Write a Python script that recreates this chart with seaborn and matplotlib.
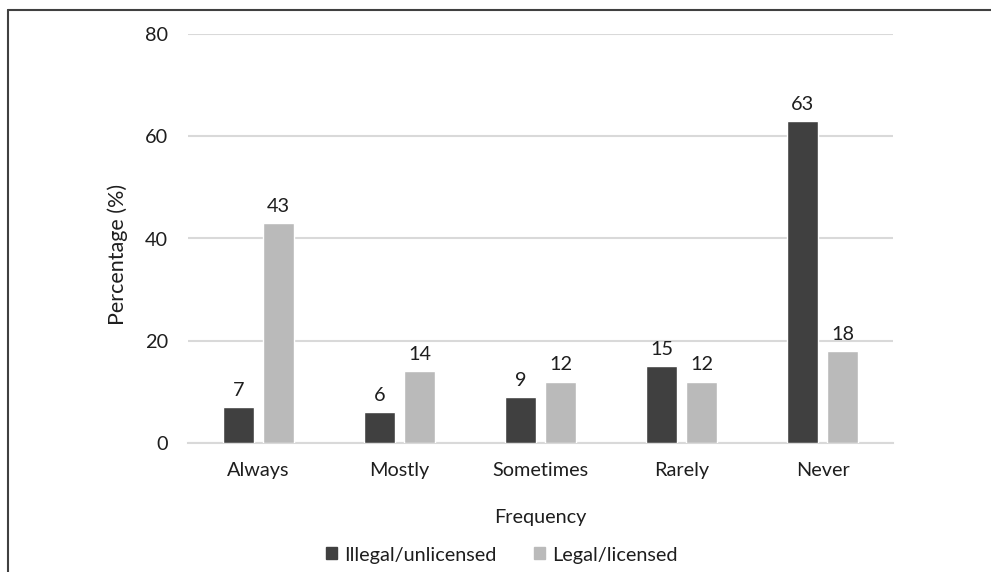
import matplotlib
matplotlib.use("Agg")
import matplotlib.pyplot as plt
from matplotlib.lines import Line2D
import seaborn as sns
import pandas as pd

categories = ["Always", "Mostly", "Sometimes", "Rarely", "Never"]
illegal = [7, 6, 9, 15, 63]
legal = [43, 14, 12, 12, 18]
series_names = ["Illegal/unlicensed", "Legal/licensed"]
y_ticks = [0, 20, 40, 60, 80]

df = pd.DataFrame({
    "Frequency": categories * 2,
    "Percentage": illegal + legal,
    "Type": [series_names[0]] * len(categories) + [series_names[1]] * len(categories),
})

sns.set_theme(style="white")
plt.rcParams["font.family"] = ["Lato", "DejaVu Sans"]
text_color = "#1e1e1e"
fs = 14.3

fig = plt.figure(figsize=(9.91, 5.72), dpi=100)
ax = fig.add_axes([188 / 991, 1 - 443 / 572, 705 / 991, 409 / 572])

palette = {series_names[0]: "#404040", series_names[1]: "#bababa"}
sns.barplot(data=df, x="Frequency", y="Percentage", hue="Type", order=categories,
            hue_order=series_names, palette=palette, width=0.567, gap=0.225,
            saturation=1, ax=ax, legend=False, zorder=3)

ax.set_ylim(0, 80)
ax.set_xlim(-0.5, len(categories) - 0.5)
ax.set_yticks(y_ticks)
ax.yaxis.grid(True, color="#d9d9d9", linewidth=1.5, zorder=0)
ax.set_axisbelow(True)
for side in ["top", "right", "left"]:
    ax.spines[side].set_visible(False)
ax.spines["bottom"].set_color("#d9d9d9")
ax.spines["bottom"].set_linewidth(1.5)
ax.tick_params(axis="both", length=0, labelsize=fs, colors=text_color)
ax.tick_params(axis="y", pad=14.5)
ax.tick_params(axis="x", pad=14)

for container in ax.containers:
    ax.bar_label(container, fmt="%d", padding=6, fontsize=fs, color=text_color)

ax.set_xlabel("Frequency", fontsize=fs, color=text_color, labelpad=21)
ax.set_ylabel("Percentage (%)", fontsize=15.5, color=text_color)
ax.yaxis.set_label_coords(-(188 - 128) / 705, (443 - 254.5) / 409)

handles = [plt.Rectangle((0, 0), 1, 1, color=palette[n]) for n in series_names]
fig.legend(handles, series_names, loc="center", bbox_to_anchor=(501.5 / 991, 1 - 555 / 572),
           ncol=2, frameon=False, fontsize=fs, handlelength=0.55, handleheight=0.55,
           handletextpad=0.35, columnspacing=1.9, labelcolor=text_color)

# outer frame: left and top edges
fig.add_artist(Line2D([8 / 991, 8 / 991], [0, 1 - 10 / 572], transform=fig.transFigure,
                      color="#404040", linewidth=1.5))
fig.add_artist(Line2D([8 / 991, 1], [1 - 10 / 572, 1 - 10 / 572], transform=fig.transFigure,
                      color="#404040", linewidth=1.5))

fig.savefig("out.png", dpi=100, facecolor="white")
